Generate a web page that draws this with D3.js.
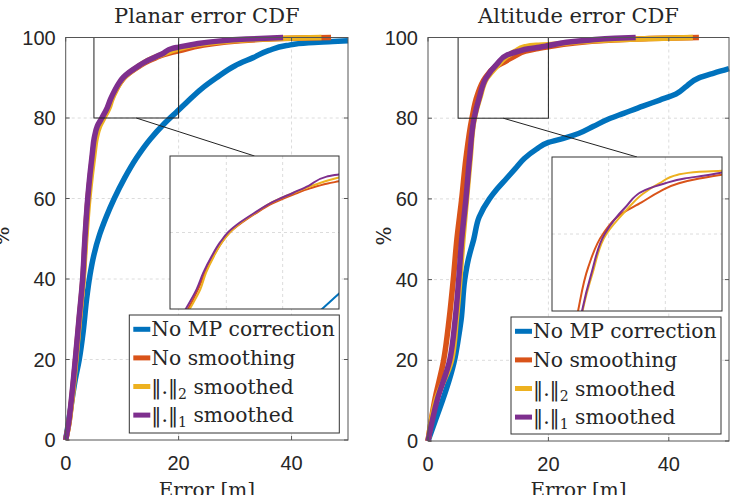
<!DOCTYPE html>
<html>
<head>
<meta charset="utf-8">
<script src="https://cdn.jsdelivr.net/npm/d3@7"></script>
<style>
 body { margin: 0px; background: white; }
 text { fill: #262626; }
</style>
</head>
<body>
<svg id="chart" width="736" height="495"></svg>
<script>
// legend / series
var seriesNames = ["No MP correction", "No smoothing", "smoothed2", "smoothed1"];
var seriesColors = ["#0072BD", "#D95319", "#EDB120", "#7E2F8E"];
var xTicks = [0, 20, 40];
var yTicks = [0, 20, 40, 60, 80, 100];

// [error m, percent]
var planarNoMP = [[0,0],[0.9,8],[1.7,15],[2.4,20],[3.1,27],[3.7,35],[4.3,41],[5,46],[6,51],[7.2,55.5],[8.6,60],[10.4,65],[12.5,70],[15,74.8],[17.4,78.5],[19.4,81.2],[21.5,84],[24,87.2],[26.7,90],[30,93],[33.2,95],[36,96.8],[39.1,98],[43,98.7],[47.3,99],[50,99.2]];
var planarNoSmooth = [[0,0],[0.55,4],[1.05,10],[1.75,20],[2.4,30],[3.05,40],[3.45,50],[3.95,60],[4.4,66],[4.8,71],[5.2,75],[5.75,78],[6.6,80],[7.5,82.6],[8.1,84.75],[8.85,86.9],[9.6,88.7],[10.3,90],[11.3,91.2],[12.6,92.5],[14.1,93.8],[16,95],[17.5,95.8],[19,96.4],[20,96.7],[24,98],[28,98.8],[33,99.4],[40,99.8],[47,100]];
var planarL2 = [[0,0],[0.55,4],[1.1,10],[1.8,20],[2.45,30],[3.1,40],[3.55,50],[4.1,60],[4.55,66],[5,71],[5.4,75],[6,78],[6.75,80],[7.7,82.6],[8.2,84.75],[8.9,86.9],[9.6,88.7],[10.3,90],[11.3,91.3],[12.6,92.6],[14,93.9],[16,95.2],[17.4,96],[19,96.8],[20,97.2],[23.5,98.3],[28,99],[33,99.5],[39,99.8],[45.3,100]];
var planarL1 = [[0,0],[0.5,4],[1,10],[1.7,20],[2.35,30],[3,40],[3.4,50],[3.9,60],[4.3,66],[4.7,71],[5.05,75],[5.6,78],[6.4,80],[7.37,82.6],[7.96,84.75],[8.7,86.9],[9.44,88.7],[10.18,90.07],[11.2,91.3],[12.54,92.6],[14,93.9],[15.95,95.2],[17.3,96.1],[18.9,97.3],[20,97.6],[23,98.4],[27,99.1],[32,99.6],[38.5,100]];

var altNoMP = [[0,0],[1.2,5],[2.4,10],[3.5,15],[4.4,20],[5,25],[5.5,30],[6.1,40],[6.7,45],[7.6,50],[8.5,55.5],[10.2,60],[11.5,62.5],[13,65],[14.5,67.5],[16,70],[18,72.3],[20,74],[22.5,75],[25,76.2],[27.5,78],[30,79.8],[32.5,81.2],[35.7,83],[38.5,84.5],[41.2,86],[43,88],[45,90],[47.5,91.2],[50,92.3]];
var altNoSmooth = [[0,0],[1.1,10],[2.6,20],[3.5,30],[4.2,40],[4.8,50],[5.6,60],[6.3,70],[7.3,80],[8.2,85.7],[9.5,90],[11,92.5],[12.9,94.1],[14.5,95.5],[16.2,96.6],[18,97.2],[20,97.7],[24,98.6],[30,99.3],[36,99.7],[41,99.9],[45,100]];
var altL2 = [[0,0],[1.3,10],[3.9,20],[4.7,30],[5.3,40],[5.8,50],[6.4,60],[7,70],[7.7,80],[8.6,85],[9.8,90],[11.5,93],[13,95.2],[14.5,96.6],[16.1,97.7],[18,98.1],[20,98.2],[24,98.8],[30,99.4],[36,99.7],[44,100]];
var altL1 = [[0,0],[1.5,10],[3.6,20],[4.5,30],[5.1,40],[5.6,50],[6.3,60],[6.9,70],[7.65,80],[8.5,85],[9.65,90],[11.5,93.5],[13.2,95.7],[15,96.6],[16.7,97.2],[18.5,97.6],[20,98],[23,98.8],[27,99.4],[31,99.8],[34.5,100]];

var zoomX = [5, 20], zoomY = [80, 100];

var svg = d3.select("#chart");

var panels = [
  { title: "Planar error CDF", curves: [planarNoMP, planarNoSmooth, planarL2, planarL1],
    left: 65.7, right: 348, top: 37.5, bottom: 440,
    inset: { left: 170, right: 339, top: 156, bottom: 309 },
    legend: { left: 129.3, top: 315, width: 210, height: 118 },
    ylabX: 3 },
  { title: "Altitude error CDF", curves: [altNoMP, altNoSmooth, altL2, altL1],
    left: 428, right: 729, top: 37.5, bottom: 441,
    inset: { left: 552, right: 722, top: 157, bottom: 311 },
    legend: { left: 511, top: 317, width: 210, height: 117 },
    ylabX: 385 }
];

var serif = "'DejaVu Serif', serif";
var sans = "'Liberation Sans', Arial, sans-serif";

panels.forEach(function(p, pi) {
  var g = svg.append("g");
  var x = d3.scaleLinear().domain([0, 50]).range([p.left, p.right]);
  var y = d3.scaleLinear().domain([0, 100]).range([p.bottom, p.top]);

  // grid
  g.selectAll(".gx").data(xTicks.slice(1)).enter().append("line")
    .attr("x1", d => x(d)).attr("x2", d => x(d))
    .attr("y1", p.top).attr("y2", p.bottom)
    .attr("stroke", "#dcdcdc").attr("stroke-dasharray", "3,3");
  g.selectAll(".gy").data(yTicks.slice(1, -1)).enter().append("line")
    .attr("x1", p.left).attr("x2", p.right)
    .attr("y1", d => y(d)).attr("y2", d => y(d))
    .attr("stroke", "#dcdcdc").attr("stroke-dasharray", "3,3");

  var line = d3.line().curve(d3.curveMonotoneY).x(d => x(d[0])).y(d => y(d[1]));
  p.curves.forEach(function(c, i) {
    g.append("path").attr("d", line(c))
      .attr("fill", "none").attr("stroke", seriesColors[i])
      .attr("stroke-width", 5.5).attr("stroke-linejoin", "round");
  });

  // zoom box + connector
  g.append("rect")
    .attr("x", x(zoomX[0])).attr("y", y(zoomY[1]))
    .attr("width", x(zoomX[1]) - x(zoomX[0])).attr("height", y(zoomY[0]) - y(zoomY[1]))
    .attr("fill", "none").attr("stroke", "#222").attr("stroke-width", 1);
  g.append("line")
    .attr("x1", (x(zoomX[0]) + x(zoomX[1])) / 2).attr("y1", y(zoomY[0]))
    .attr("x2", (p.inset.left + p.inset.right) / 2).attr("y2", p.inset.top)
    .attr("stroke", "#222").attr("stroke-width", 1);

  // inset
  var ins = p.inset;
  var ix = d3.scaleLinear().domain(zoomX).range([ins.left, ins.right]);
  var iy = d3.scaleLinear().domain(zoomY).range([ins.bottom, ins.top]);
  var clipId = "clip" + pi;
  svg.append("clipPath").attr("id", clipId).append("rect")
    .attr("x", ins.left).attr("y", ins.top)
    .attr("width", ins.right - ins.left).attr("height", ins.bottom - ins.top);
  var ig = g.append("g");
  ig.append("rect").attr("x", ins.left).attr("y", ins.top)
    .attr("width", ins.right - ins.left).attr("height", ins.bottom - ins.top)
    .attr("fill", "white");
  ig.selectAll(".igx").data([10, 15]).enter().append("line")
    .attr("x1", d => ix(d)).attr("x2", d => ix(d))
    .attr("y1", ins.top).attr("y2", ins.bottom)
    .attr("stroke", "#dcdcdc").attr("stroke-dasharray", "3,3");
  ig.append("line").attr("x1", ins.left).attr("x2", ins.right)
    .attr("y1", iy(90)).attr("y2", iy(90))
    .attr("stroke", "#dcdcdc").attr("stroke-dasharray", "3,3");
  var iline = d3.line().curve(d3.curveMonotoneY).x(d => ix(d[0])).y(d => iy(d[1]));
  var ic = ig.append("g").attr("clip-path", "url(#" + clipId + ")");
  p.curves.forEach(function(c, i) {
    ic.append("path").attr("d", iline(c))
      .attr("fill", "none").attr("stroke", seriesColors[i])
      .attr("stroke-width", 2).attr("stroke-linejoin", "round");
  });
  ig.append("rect").attr("x", ins.left).attr("y", ins.top)
    .attr("width", ins.right - ins.left).attr("height", ins.bottom - ins.top)
    .attr("fill", "none").attr("stroke", "#333").attr("stroke-width", 1);

  // legend
  var L = p.legend;
  var lg = g.append("g").attr("transform", "translate(" + L.left + "," + L.top + ")");
  lg.append("rect").attr("width", L.width).attr("height", L.height)
    .attr("fill", "white").attr("stroke", "#333").attr("stroke-width", 1);
  seriesNames.forEach(function(name, i) {
    var cy = 14.3 + i * 28.6;
    lg.append("line").attr("x1", 4).attr("x2", 21).attr("y1", cy).attr("y2", cy)
      .attr("stroke", seriesColors[i]).attr("stroke-width", 5);
    var t = lg.append("text").attr("x", 22).attr("y", cy + 7)
      .style("font-family", serif).style("font-size", "20.3px");
    if (i < 2) {
      t.text(name);
    } else {
      t.append("tspan").text("\u2016.\u2016");
      t.append("tspan").attr("dy", 5).style("font-size", "14px").text(i == 2 ? "2" : "1");
      t.append("tspan").attr("dy", -5).text(" smoothed");
    }
  });

  // axes box + ticks
  g.append("rect").attr("x", p.left).attr("y", p.top)
    .attr("width", p.right - p.left).attr("height", p.bottom - p.top)
    .attr("fill", "none").attr("stroke", "#555").attr("stroke-width", 1);
  var tl = 4;
  xTicks.forEach(function(d) {
    g.append("line").attr("x1", x(d)).attr("x2", x(d)).attr("y1", p.bottom).attr("y2", p.bottom - tl).attr("stroke", "#555");
    g.append("line").attr("x1", x(d)).attr("x2", x(d)).attr("y1", p.top).attr("y2", p.top + tl).attr("stroke", "#555");
    g.append("text").attr("x", x(d)).attr("y", p.bottom + 30)
      .attr("text-anchor", "middle")
      .style("font-family", sans).style("font-size", "20px")
      .text(d);
  });
  yTicks.forEach(function(d) {
    g.append("line").attr("x1", p.left).attr("x2", p.left + tl).attr("y1", y(d)).attr("y2", y(d)).attr("stroke", "#555");
    g.append("line").attr("x1", p.right).attr("x2", p.right - tl).attr("y1", y(d)).attr("y2", y(d)).attr("stroke", "#555");
    g.append("text").attr("x", p.left - 10).attr("y", y(d) + 7)
      .attr("text-anchor", "end")
      .style("font-family", sans).style("font-size", "20px")
      .text(d);
  });

  // titles and labels
  g.append("text").attr("x", (p.left + p.right) / 2).attr("y", 23)
    .attr("text-anchor", "middle")
    .style("font-family", serif).style("font-size", "21px")
    .text(p.title);
  g.append("text").attr("x", (p.left + p.right) / 2).attr("y", 497)
    .attr("text-anchor", "middle")
    .style("font-family", serif).style("font-size", "20px")
    .text("Error [m]");
  g.append("text").attr("transform", "translate(" + (p.ylabX + 6) + ",236) rotate(-90)")
    .attr("text-anchor", "middle")
    .style("font-family", serif).style("font-size", "20px")
    .text("%");
});
</script>
</body>
</html>
